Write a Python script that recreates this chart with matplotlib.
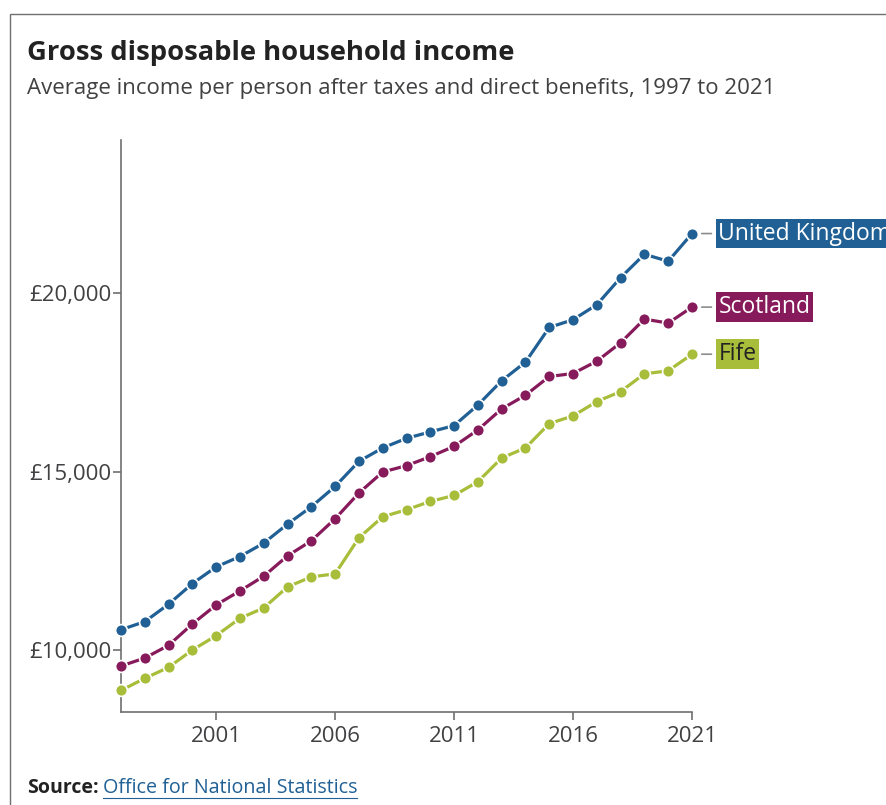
import matplotlib.pyplot as plt
from matplotlib.patches import Rectangle
from matplotlib.lines import Line2D

plt.rcParams['font.family'] = ['Open Sans', 'DejaVu Sans']

years = list(range(1997, 2022))
uk = [10570, 10795, 11284, 11862, 12331, 12621, 12997, 13531, 14017, 14587,
      15290, 15666, 15936, 16116, 16292, 16870, 17549, 18072, 19045, 19261,
      19683, 20441, 21096, 20900, 21677]
scotland = [9551, 9775, 10131, 10730, 11264, 11657, 12070, 12640, 13062, 13680,
            14402, 14992, 15169, 15421, 15711, 16171, 16761, 17143, 17669, 17753,
            18099, 18615, 19279, 19166, 19615]
fife = [8868, 9205, 9514, 10000, 10402, 10890, 11180, 11770, 12051, 12135,
        13146, 13736, 13933, 14166, 14334, 14719, 15384, 15666, 16348, 16564,
        16966, 17247, 17744, 17828, 18294]

series = [
    ("United Kingdom", uk, "#206095", "white"),
    ("Scotland", scotland, "#871A5B", "white"),
    ("Fife", fife, "#A8BD3A", "#222222"),
]

x_ticks = [2001, 2006, 2011, 2016, 2021]
y_ticks = [10000, 15000, 20000]
y_labels = ["£10,000", "£15,000", "£20,000"]

W, H = 887, 805
fig = plt.figure(figsize=(W / 100, H / 100), dpi=100)

# outer card border
fig.patches.append(Rectangle((10 / W, -0.1), 1.2, 1 - 14 / H + 0.1,
                             transform=fig.transFigure, fill=False,
                             edgecolor="#707070", linewidth=1.0))

ax = fig.add_axes([121 / W, 1 - 712 / H, (692 - 121) / W, (712 - 140) / H])

for name, vals, col, tcol in series:
    ax.plot(years, vals, color=col, linewidth=2.3, marker="o", markersize=8.5,
            markeredgecolor="white", markeredgewidth=1.2, clip_on=False, zorder=3)
    ax.annotate(name, xy=(years[-1], vals[-1]), xytext=(19, 0),
                textcoords="offset points", ha="left", va="center",
                fontsize=16.5, color=tcol,
                bbox=dict(boxstyle="square,pad=0.12", facecolor=col, edgecolor="none"),
                arrowprops=dict(arrowstyle="-", color="#8c8c8c", linewidth=1.2,
                                shrinkA=3, shrinkB=7),
                annotation_clip=False)

ax.set_xlim(1997, 2021)
ax.set_ylim(8262, 24300)
ax.set_xticks(x_ticks)
ax.set_xticklabels([str(t) for t in x_ticks])
ax.set_yticks(y_ticks)
ax.set_yticklabels(y_labels)

for s in ["top", "right"]:
    ax.spines[s].set_visible(False)
for s in ["left", "bottom"]:
    ax.spines[s].set_color("#707070")
    ax.spines[s].set_linewidth(1.2)

ax.tick_params(axis="both", colors="#707070", length=6, width=1.2,
               labelsize=16, labelcolor="#414042", pad=1)
ax.tick_params(axis="x", pad=4)

fig.text(27 / W, 1 - 60 / H, "Gross disposable household income",
         fontsize=19.7, fontweight="bold", color="#222222", va="baseline")
fig.text(27 / W, 1 - 94 / H,
         "Average income per person after taxes and direct benefits, 1997 to 2021",
         fontsize=16, color="#414042", va="baseline")

fig.text(27 / W, 1 - 793 / H, "Source:", fontsize=14, fontweight="bold",
         color="#222222", va="baseline")
link = fig.text(103 / W, 1 - 793 / H, "Office for National Statistics", fontsize=14.2,
                color="#206095", va="baseline")

# underline the link to the width of its text
fig.canvas.draw()
bb = link.get_window_extent()
fig.lines.append(Line2D([bb.x0 / W, bb.x1 / W], [1 - 798 / H, 1 - 798 / H],
                        transform=fig.transFigure, color="#206095", linewidth=0.8))

fig.savefig("out.png", dpi=100)
